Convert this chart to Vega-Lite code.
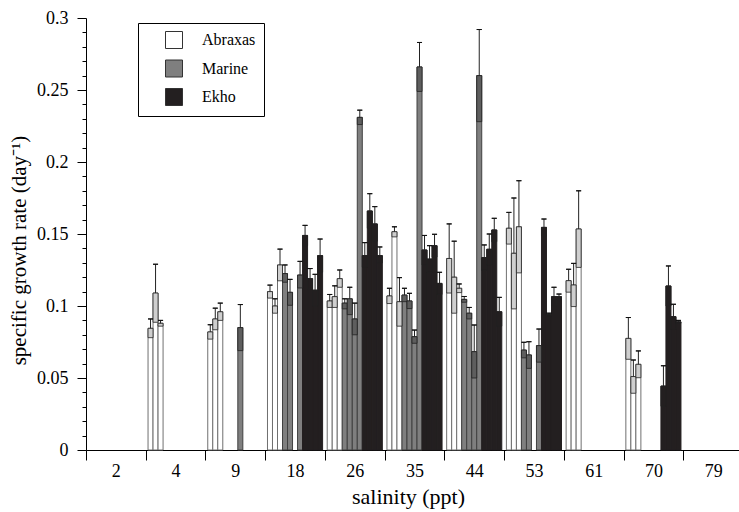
{
  "$schema": "https://vega.github.io/schema/vega-lite/v6.json",
  "width": 653,
  "height": 432,
  "autosize": {"type": "none"},
  "padding": {"left": 86, "top": 18, "right": 0, "bottom": 62},
  "background": "white",
  "config": {
    "view": {"stroke": null},
    "font": "Liberation Serif",
    "axis": {"labelFont": "Liberation Serif", "titleFont": "Liberation Serif", "labelColor": "#000", "titleColor": "#000", "domainColor": "#000", "tickColor": "#000", "grid": false, "titleFontWeight": "normal"},
    "legend": {"labelFont": "Liberation Serif"}
  },
  "data": {"values": [
    {"s": "4", "slot": 0, "strain": "Abraxas", "m": 0.0845, "lo": 0.078, "hi": 0.091},
    {"s": "4", "slot": 1, "strain": "Abraxas", "m": 0.109, "lo": 0.0887, "hi": 0.129},
    {"s": "4", "slot": 2, "strain": "Abraxas", "m": 0.088, "lo": 0.086, "hi": 0.090},
    {"s": "9", "slot": 0, "strain": "Abraxas", "m": 0.082, "lo": 0.077, "hi": 0.087},
    {"s": "9", "slot": 1, "strain": "Abraxas", "m": 0.091, "lo": 0.0835, "hi": 0.0985},
    {"s": "9", "slot": 2, "strain": "Abraxas", "m": 0.096, "lo": 0.090, "hi": 0.102},
    {"s": "9", "slot": 6, "strain": "Marine", "m": 0.085, "lo": 0.069, "hi": 0.101},
    {"s": "18", "slot": 0, "strain": "Abraxas", "m": 0.110, "lo": 0.1055, "hi": 0.1145},
    {"s": "18", "slot": 1, "strain": "Abraxas", "m": 0.100, "lo": 0.095, "hi": 0.105},
    {"s": "18", "slot": 2, "strain": "Abraxas", "m": 0.1285, "lo": 0.1175, "hi": 0.1395},
    {"s": "18", "slot": 3, "strain": "Marine", "m": 0.1225, "lo": 0.1165, "hi": 0.1285},
    {"s": "18", "slot": 4, "strain": "Marine", "m": 0.1095, "lo": 0.1005, "hi": 0.1185},
    {"s": "18", "slot": 6, "strain": "Marine", "m": 0.1215, "lo": 0.1125, "hi": 0.131},
    {"s": "18", "slot": 7, "strain": "Ekho", "m": 0.149, "lo": 0.142, "hi": 0.156},
    {"s": "18", "slot": 8, "strain": "Ekho", "m": 0.119, "lo": 0.112, "hi": 0.126},
    {"s": "18", "slot": 9, "strain": "Ekho", "m": 0.111, "lo": 0.100, "hi": 0.122},
    {"s": "18", "slot": 10, "strain": "Ekho", "m": 0.135, "lo": 0.1235, "hi": 0.1465},
    {"s": "26", "slot": 0, "strain": "Abraxas", "m": 0.1035, "lo": 0.099, "hi": 0.108},
    {"s": "26", "slot": 1, "strain": "Abraxas", "m": 0.1065, "lo": 0.099, "hi": 0.114},
    {"s": "26", "slot": 2, "strain": "Abraxas", "m": 0.119, "lo": 0.113, "hi": 0.125},
    {"s": "26", "slot": 3, "strain": "Marine", "m": 0.102, "lo": 0.098, "hi": 0.105},
    {"s": "26", "slot": 4, "strain": "Marine", "m": 0.105, "lo": 0.094, "hi": 0.113},
    {"s": "26", "slot": 5, "strain": "Marine", "m": 0.091, "lo": 0.080, "hi": 0.102},
    {"s": "26", "slot": 6, "strain": "Marine", "m": 0.231, "lo": 0.226, "hi": 0.236},
    {"s": "26", "slot": 7, "strain": "Ekho", "m": 0.135, "lo": 0.127, "hi": 0.144},
    {"s": "26", "slot": 8, "strain": "Ekho", "m": 0.166, "lo": 0.154, "hi": 0.178},
    {"s": "26", "slot": 9, "strain": "Ekho", "m": 0.157, "lo": 0.145, "hi": 0.169},
    {"s": "26", "slot": 10, "strain": "Ekho", "m": 0.135, "lo": 0.130, "hi": 0.141},
    {"s": "35", "slot": 0, "strain": "Abraxas", "m": 0.107, "lo": 0.1017, "hi": 0.1123},
    {"s": "35", "slot": 1, "strain": "Abraxas", "m": 0.1516, "lo": 0.148, "hi": 0.155},
    {"s": "35", "slot": 2, "strain": "Abraxas", "m": 0.103, "lo": 0.086, "hi": 0.1197},
    {"s": "35", "slot": 3, "strain": "Marine", "m": 0.1076, "lo": 0.103, "hi": 0.1123},
    {"s": "35", "slot": 4, "strain": "Marine", "m": 0.1035, "lo": 0.0982, "hi": 0.1088},
    {"s": "35", "slot": 5, "strain": "Marine", "m": 0.0787, "lo": 0.0741, "hi": 0.0833},
    {"s": "35", "slot": 6, "strain": "Marine", "m": 0.266, "lo": 0.249, "hi": 0.283},
    {"s": "35", "slot": 7, "strain": "Ekho", "m": 0.1389, "lo": 0.1285, "hi": 0.149},
    {"s": "35", "slot": 8, "strain": "Ekho", "m": 0.1326, "lo": 0.1233, "hi": 0.1419},
    {"s": "35", "slot": 9, "strain": "Ekho", "m": 0.1419, "lo": 0.134, "hi": 0.1498},
    {"s": "35", "slot": 10, "strain": "Ekho", "m": 0.1157, "lo": 0.108, "hi": 0.1234},
    {"s": "44", "slot": 0, "strain": "Abraxas", "m": 0.133, "lo": 0.109, "hi": 0.157},
    {"s": "44", "slot": 1, "strain": "Abraxas", "m": 0.12, "lo": 0.095, "hi": 0.145},
    {"s": "44", "slot": 2, "strain": "Abraxas", "m": 0.1123, "lo": 0.1093, "hi": 0.1153},
    {"s": "44", "slot": 3, "strain": "Marine", "m": 0.1046, "lo": 0.1026, "hi": 0.1066},
    {"s": "44", "slot": 4, "strain": "Marine", "m": 0.095, "lo": 0.091, "hi": 0.099},
    {"s": "44", "slot": 5, "strain": "Marine", "m": 0.0683, "lo": 0.05, "hi": 0.0868},
    {"s": "44", "slot": 6, "strain": "Marine", "m": 0.26, "lo": 0.228, "hi": 0.292},
    {"s": "44", "slot": 7, "strain": "Ekho", "m": 0.1336, "lo": 0.1248, "hi": 0.1424},
    {"s": "44", "slot": 8, "strain": "Ekho", "m": 0.1394, "lo": 0.1288, "hi": 0.15},
    {"s": "44", "slot": 9, "strain": "Ekho", "m": 0.1528, "lo": 0.1447, "hi": 0.1609},
    {"s": "44", "slot": 10, "strain": "Ekho", "m": 0.096, "lo": 0.086, "hi": 0.106},
    {"s": "53", "slot": 0, "strain": "Abraxas", "m": 0.154, "lo": 0.143, "hi": 0.165},
    {"s": "53", "slot": 1, "strain": "Abraxas", "m": 0.1366, "lo": 0.098, "hi": 0.175},
    {"s": "53", "slot": 2, "strain": "Abraxas", "m": 0.155, "lo": 0.123, "hi": 0.187},
    {"s": "53", "slot": 3, "strain": "Marine", "m": 0.0694, "lo": 0.064, "hi": 0.0748},
    {"s": "53", "slot": 4, "strain": "Marine", "m": 0.066, "lo": 0.0567, "hi": 0.0752},
    {"s": "53", "slot": 6, "strain": "Marine", "m": 0.0725, "lo": 0.061, "hi": 0.084},
    {"s": "53", "slot": 7, "strain": "Ekho", "m": 0.1546, "lo": 0.1488, "hi": 0.1604},
    {"s": "53", "slot": 8, "strain": "Ekho", "m": 0.094, "lo": 0.093, "hi": 0.095},
    {"s": "53", "slot": 9, "strain": "Ekho", "m": 0.1065, "lo": 0.1, "hi": 0.113},
    {"s": "53", "slot": 10, "strain": "Ekho", "m": 0.1065, "lo": 0.1047, "hi": 0.1083},
    {"s": "61", "slot": 0, "strain": "Abraxas", "m": 0.1176, "lo": 0.1096, "hi": 0.1255},
    {"s": "61", "slot": 1, "strain": "Abraxas", "m": 0.1146, "lo": 0.0996, "hi": 0.1296},
    {"s": "61", "slot": 2, "strain": "Abraxas", "m": 0.1535, "lo": 0.1268, "hi": 0.180},
    {"s": "70", "slot": 0, "strain": "Abraxas", "m": 0.0775, "lo": 0.063, "hi": 0.092},
    {"s": "70", "slot": 1, "strain": "Abraxas", "m": 0.051, "lo": 0.0394, "hi": 0.0625},
    {"s": "70", "slot": 2, "strain": "Abraxas", "m": 0.0595, "lo": 0.0502, "hi": 0.0688},
    {"s": "70", "slot": 7, "strain": "Ekho", "m": 0.0444, "lo": 0.0304, "hi": 0.0585},
    {"s": "70", "slot": 8, "strain": "Ekho", "m": 0.1139, "lo": 0.1, "hi": 0.1278},
    {"s": "70", "slot": 9, "strain": "Ekho", "m": 0.0926, "lo": 0.084, "hi": 0.1012},
    {"s": "70", "slot": 10, "strain": "Ekho", "m": 0.089, "lo": 0.088, "hi": 0.090}
  ]},
  "encoding": {
    "x": {
      "field": "s", "type": "ordinal",
      "scale": {"domain": ["2", "4", "9", "18", "26", "35", "44", "53", "61", "70", "79"], "range": [0, 657], "paddingInner": 0, "paddingOuter": 0},
      "axis": {"title": "salinity (ppt)", "tickBand": "extent", "tickSize": 10, "labelFont": "Liberation Serif", "labelFontSize": 18, "labelPadding": 2, "labelAngle": 0, "titleFontSize": 22, "titlePadding": 6, "titleX": 322}
    },
    "xOffset": {
      "field": "slot", "type": "ordinal",
      "scale": {"domain": [0, 1, 2, 3, 4, 5, 6, 7, 8, 9, 10], "paddingInner": 0, "paddingOuter": 0.46}
    }
  },
  "layer": [
    {
      "mark": {"type": "bar", "strokeWidth": 1},
      "encoding": {
        "y": {
          "field": "m", "type": "quantitative",
          "scale": {"domain": [0, 0.3], "nice": false, "zero": true},
          "axis": {"orient": "left", "values": [0, 0.05, 0.1, 0.15, 0.2, 0.25, 0.3], "format": "~g", "tickSize": 9, "labelFont": "Liberation Serif", "labelFontSize": 18, "labelPadding": 9, "title": "specific growth rate (day⁻¹)", "titleFontSize": 21, "titleX": -57, "titleY": 232}
        },
        "color": {
          "field": "strain", "type": "nominal",
          "scale": {"domain": ["Abraxas", "Marine", "Ekho"], "range": ["#ffffff", "#7f7f7f", "#231f20"]},
          "legend": {"orient": "none", "legendX": 52, "legendY": 5, "title": null, "symbolType": "square", "symbolSize": 289, "symbolStrokeColor": "#333", "symbolStrokeWidth": 1, "symbolOffset": 19, "labelOffset": 19, "labelFont": "Liberation Serif", "labelFontSize": 16, "labelColor": "#000", "rowPadding": 6.5, "padding": 8, "strokeColor": "#000", "fillColor": "#fff"}
        },
        "stroke": {
          "condition": [
            {"test": "datum.strain === 'Abraxas'", "value": "#707070"},
            {"test": "datum.strain === 'Marine'", "value": "#404040"}
          ],
          "value": "#231f20"
        }
      }
    },
    {
      "mark": {"type": "bar", "stroke": "#222", "strokeWidth": 0.8},
      "encoding": {
        "y": {
          "field": "lo", "type": "quantitative",
          "axis": {"orient": "left", "values": [0.01, 0.02, 0.03, 0.04, 0.06, 0.07, 0.08, 0.09, 0.11, 0.12, 0.13, 0.14, 0.16, 0.17, 0.18, 0.19, 0.21, 0.22, 0.23, 0.24, 0.26, 0.27, 0.28, 0.29], "labels": false, "domain": false, "tickSize": 4, "title": null}
        },
        "y2": {"field": "m"},
        "fill": {
          "condition": [
            {"test": "datum.strain === 'Abraxas'", "value": "#cfcfcf"},
            {"test": "datum.strain === 'Marine'", "value": "#5e5e5e"}
          ],
          "value": "#231f20"
        }
      }
    },
    {
      "mark": {"type": "rule", "color": "#222", "strokeWidth": 1},
      "encoding": {
        "y": {"field": "m", "type": "quantitative", "axis": null},
        "y2": {"field": "hi"}
      }
    },
    {
      "mark": {"type": "bar", "stroke": "#111", "strokeWidth": 1, "fill": "#111"},
      "encoding": {
        "y": {"field": "hi", "type": "quantitative", "axis": null},
        "y2": {"field": "hi"}
      }
    }
  ],
  "resolve": {"axis": {"y": "independent"}}
}
